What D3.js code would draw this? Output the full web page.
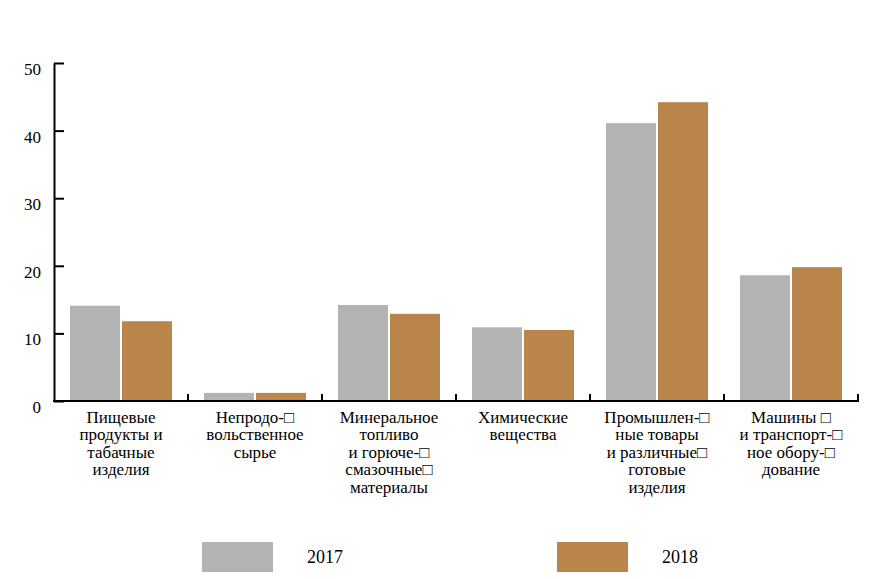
<!DOCTYPE html>
<html lang="ru">
<head>
  <meta charset="UTF-8">
  <title>Импорт по товарным группам</title>
  <script src="https://d3js.org/d3.v7.min.js"></script>
  <style>
    body { margin: 0; background: #fff; }
    svg text { font-family: "Liberation Serif", "Times New Roman", "DejaVu Serif", serif !important; fill: #000; }
    .axis path, .axis line { stroke: #000; stroke-width: 2px; }
  </style>
</head>
<body>
  <div id="chart"></div>

  <script>
    // Категории (подписи по строкам)
    const categories = ["food", "raw", "fuel", "chem", "manuf", "mach"];
    const categoryLines = [
      ["Пищевые", "продукты и", "табачные", "изделия"],
      ["Непродо-\u25A1", "вольственное", "сырье"],
      ["Минеральное", "топливо", "и горюче-\u25A1", "смазочные\u25A1", "материалы"],
      ["Химические", "вещества"],
      ["Промышлен-\u25A1", "ные товары", "и различные\u25A1", "готовые", "изделия"],
      ["Машины \u25A1", "и транспорт-\u25A1", "ное обору-\u25A1", "дование"]
    ];
    const series = ["2017", "2018"];
    const values2017 = [14.1, 1.2, 14.2, 10.9, 41.1, 18.6];
    const values2018 = [11.8, 1.2, 12.9, 10.5, 44.2, 19.8];
    const yTicks = [0, 10, 20, 30, 40, 50];
    const colors = ["#b3b3b3", "#b9854a"];

    const width = 884, height = 579;
    const svg = d3.select("#chart").append("svg")
      .attr("width", width)
      .attr("height", height);

    const x = d3.scaleBand().domain(categories).range([54, 858]).paddingInner(0);
    const xs = d3.scaleBand().domain(series).range([16, 118]).paddingInner(4 / 102);
    const y = d3.scaleLinear().domain([0, 50]).range([401, 63]);

    const data = categories.map((c, i) => ({ cat: c, vals: [values2017[i], values2018[i]] }));

    // Столбики
    const groups = svg.append("g").selectAll("g")
      .data(data)
      .join("g")
      .attr("transform", d => `translate(${x(d.cat)},0)`);

    groups.selectAll("rect")
      .data(d => d.vals.map((v, k) => ({ key: series[k], v: v, k: k })))
      .join("rect")
      .attr("x", d => xs(d.key))
      .attr("y", d => y(d.v))
      .attr("width", xs.bandwidth())
      .attr("height", d => y(0) - y(d.v))
      .attr("fill", d => colors[d.k]);

    // Ось Y
    const yAxis = svg.append("g")
      .attr("class", "axis")
      .attr("transform", "translate(54,0)")
      .call(d3.axisLeft(y).tickValues(yTicks).tickSizeInner(-10).tickSizeOuter(0).tickPadding(13));
    yAxis.attr("font-family", null);
    yAxis.selectAll("text").style("font-size", "17px").attr("dy", "0.68em");

    // Ось X: линия и засечки на границах категорий
    const xAxis = svg.append("g").attr("class", "axis");
    xAxis.append("line")
      .attr("x1", x.range()[0] - 1).attr("x2", x.range()[1] + 1)
      .attr("y1", y(0)).attr("y2", y(0));
    xAxis.selectAll(".tick")
      .data(categories)
      .join("line")
      .attr("class", "tick")
      .attr("x1", d => x(d) + x.bandwidth()).attr("x2", d => x(d) + x.bandwidth())
      .attr("y1", y(0)).attr("y2", y(0) - 7);

    // Подписи категорий
    const labels = svg.append("g").selectAll("text")
      .data(data)
      .join("text")
      .attr("text-anchor", "middle")
      .style("font-size", "17px")
      .attr("transform", d => `translate(${x(d.cat) + x.bandwidth() / 2},423)`);
    labels.selectAll("tspan")
      .data((d, i) => categoryLines[i])
      .join("tspan")
      .attr("x", 0)
      .attr("y", (d, j) => j * 17.4)
      .text(d => d);

    // Легенда
    const legend = svg.append("g").selectAll("g")
      .data(series)
      .join("g")
      .attr("transform", (d, i) => `translate(${202 + i * 355},542)`);
    legend.append("rect")
      .attr("width", 71).attr("height", 30)
      .attr("fill", (d, i) => colors[i]);
    legend.append("text")
      .attr("x", 105).attr("y", 21)
      .style("font-size", "18px")
      .text(d => d);
  </script>
</body>
</html>
